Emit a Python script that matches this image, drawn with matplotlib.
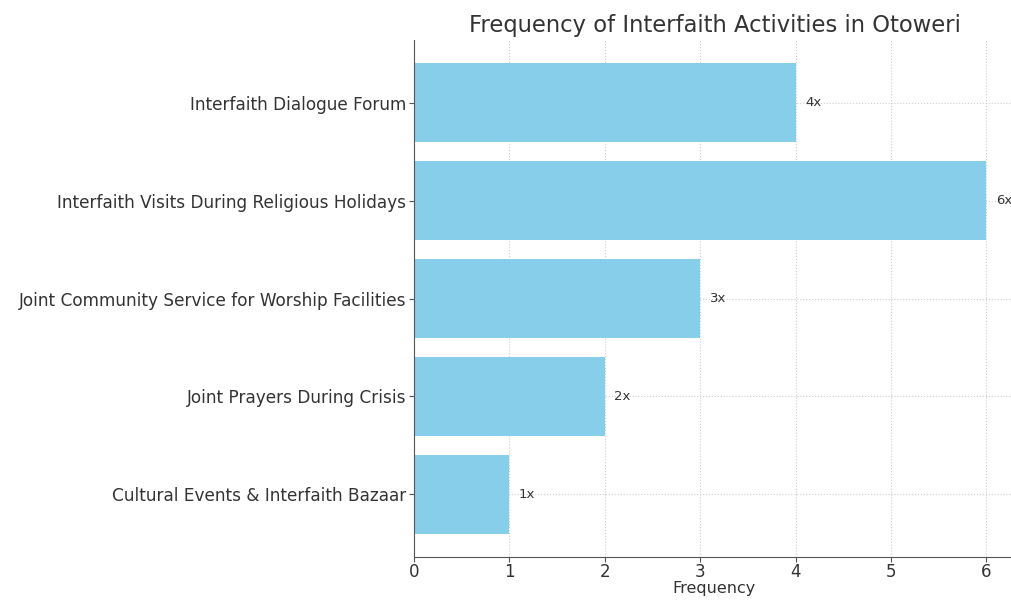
import matplotlib
matplotlib.use("Agg")
import matplotlib.pyplot as plt

activities = ["Cultural Events & Interfaith Bazaar",
              "Joint Prayers During Crisis",
              "Joint Community Service for Worship Facilities",
              "Interfaith Visits During Religious Holidays",
              "Interfaith Dialogue Forum"]
frequency = [1, 2, 3, 6, 4]
labels = ["1x", "2x", "3x", "6x", "4x"]

fig = plt.figure(figsize=(10.11, 6), dpi=100)
ax = fig.add_axes([414/1011, 43/600, 601/1011, 517/600])

ax.barh(activities, frequency, height=0.8, color="#87CEEB", zorder=2)
for i, (v, t) in enumerate(zip(frequency, labels)):
    ax.text(v + 0.1, i, t, va="center", ha="left", fontsize=9.5, color="#333333")

ax.set_xlim(0, 6.3)
ax.set_title("Frequency of Interfaith Activities in Otoweri", fontsize=16.3,
             color="#333333", pad=6)
ax.set_xlabel("Frequency", fontsize=11.5, color="#333333", labelpad=0)
ax.grid(True, linestyle=":", color="#cccccc", linewidth=0.8, zorder=0)
ax.set_axisbelow(True)
for s in ["top", "right"]:
    ax.spines[s].set_visible(False)
for s in ["left", "bottom"]:
    ax.spines[s].set_color("#555555")
ax.tick_params(colors="#555555", labelcolor="#333333", labelsize=12.2)
ax.tick_params(axis="y", pad=2)
ax.tick_params(axis="x", pad=1, labelsize=12)

fig.savefig("out.png", dpi=100)
